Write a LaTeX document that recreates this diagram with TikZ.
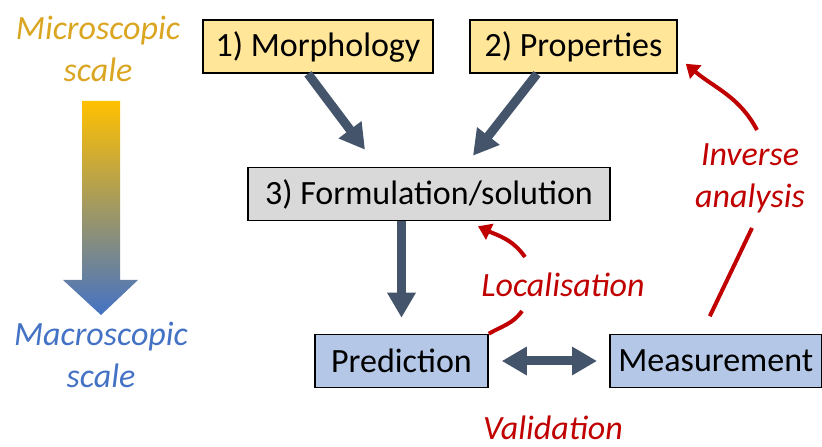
\documentclass[tikz,border=0pt]{standalone}
\usepackage{fontspec}
\setmainfont{Carlito}
\usetikzlibrary{arrows.meta,calc}
\definecolor{yellowbox}{RGB}{255,230,153}
\definecolor{greybox}{RGB}{217,217,217}
\definecolor{bluebox}{RGB}{180,199,231}
\definecolor{slate}{RGB}{68,84,106}
\definecolor{redarr}{RGB}{192,0,0}
\definecolor{microfill}{RGB}{255,192,0}
\definecolor{macrofill}{RGB}{68,114,196}
\definecolor{microtext}{RGB}{218,165,32}
\definecolor{macrotext}{RGB}{68,114,196}
\begin{document}
\begin{tikzpicture}[x=1pt,y=1pt,
    box/.style={draw=black, line width=1.6pt, minimum height=53pt, inner sep=0pt, font=\fontsize{34}{41}\selectfont},
    fat/.style={color=slate, line width=9pt, -{Triangle[width=27pt,length=25pt]}},
    redline/.style={color=redarr, line width=4pt},
    back/.style={redline, -{Triangle[width=17pt,length=13pt]}},
    lbl/.style={align=center, inner sep=0pt, font=\itshape\fontsize{34}{42}\selectfont}]
  \useasboundingbox (0,0) rectangle (822,447);
  % scale bar
  \shade[top color=microfill, bottom color=macrofill] (82,346) -- (120,346) -- (120,167) -- (138,167) -- (101,132) -- (63,167) -- (82,167) -- cycle;
  \node[lbl, text=microtext] (microlbl) at (98,398) {Microscopic\\scale};
  \node[lbl, text=macrotext] (macrolbl) at (101,92) {Macroscopic\\scale};
  % boxes
  \node[box, fill=yellowbox, minimum width=230pt] (morph) at (318,400.5) {1) Morphology};
  \node[box, fill=yellowbox, minimum width=207pt] (prop) at (573.5,400.5) {2) Properties};
  \node[box, fill=greybox, minimum width=362pt] (form) at (429,253) {3) Formulation/solution};
  \node[box, fill=bluebox, minimum width=173pt] (pred) at (401.5,86) {Prediction};
  \node[box, fill=bluebox, minimum width=212pt, anchor=west] (meas) at (609,86) {Measurement};
  % labels
  \node[lbl, text=redarr] (inv) at (750,269) {Inverse\\analysis};
  \node[lbl, text=redarr] (loc) at (563,162) {Localisation};
  \node[lbl, text=redarr] (valid) at (553,19) {Validation};
  % arrows
  \path[fat] ([xshift=-10pt]morph.south) edge ([xshift=-64pt,yshift=17pt]form.north);
  \path[fat] ([xshift=-36.5pt]prop.south) edge ([xshift=44pt,yshift=11pt]form.north);
  \path[fat] (form.south -| pred.north) edge ([yshift=16pt]pred.north);
  \path[fat, {Triangle[width=27pt,length=25pt]}-{Triangle[width=27pt,length=25pt]}] (pred.east) edge[shorten <=13pt, shorten >=12pt] (meas.west);
  \path[redline] (pred.north east) edge[out=30,in=-125] ([xshift=-41pt,yshift=-26pt]loc.center);
  \path[back] ([xshift=-38pt,yshift=28pt]loc.center) edge[out=125,in=-25] ([xshift=49pt,yshift=-5pt]form.south);
  \path[redline] ([xshift=-6pt,yshift=17.5pt]meas.north) edge ([xshift=2pt,yshift=-50pt]inv.center);
  \path[back] ([xshift=7pt,yshift=48pt]inv.center) edge[out=118,in=-40] ([xshift=8pt,yshift=10pt]prop.south east);
\end{tikzpicture}
\end{document}
